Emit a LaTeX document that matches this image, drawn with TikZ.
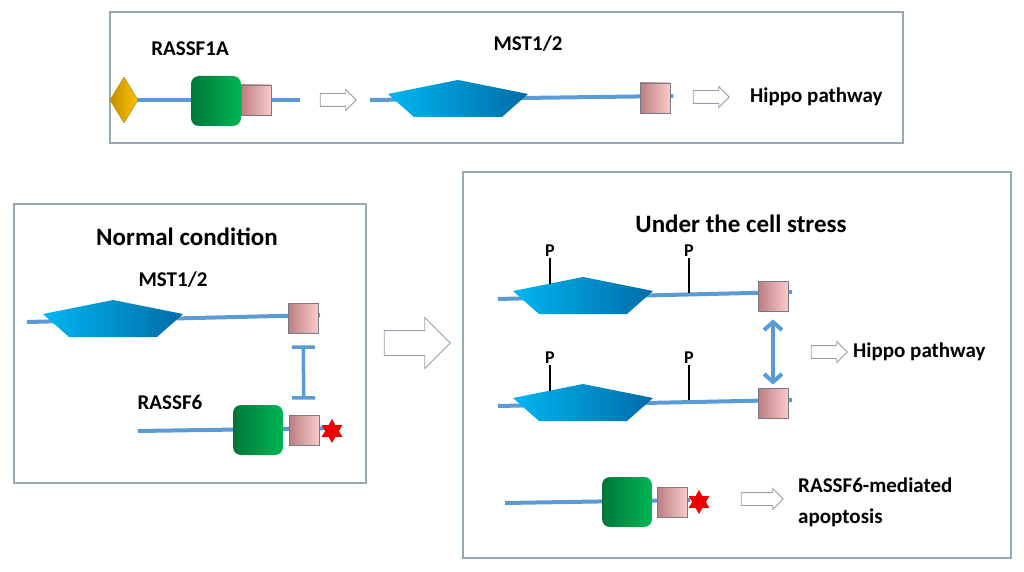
\documentclass[tikz,border=0pt]{standalone}
\usepackage{fontspec}
\setmainfont{Carlito}
\usetikzlibrary{shapes.geometric,shapes.arrows,arrows.meta,backgrounds}

\definecolor{chainblue}{RGB}{91,155,213}
\definecolor{framegray}{RGB}{150,168,178}
\definecolor{arrowgray}{RGB}{150,160,170}
\definecolor{kincyan}{RGB}{0,182,240}
\definecolor{kinblue}{RGB}{0,108,168}
\definecolor{rasdark}{RGB}{0,118,58}
\definecolor{raslight}{RGB}{0,182,82}
\definecolor{sardark}{RGB}{186,126,128}
\definecolor{sarlight}{RGB}{250,202,202}
\definecolor{sarline}{RGB}{120,120,132}
\definecolor{golddark}{RGB}{196,142,0}
\definecolor{goldlight}{RGB}{255,194,0}
\definecolor{starred}{RGB}{240,0,0}

\tikzset{
  kinase/.pic={
    \path[left color=kincyan,right color=kinblue]
      (-70,-6) -- (0,-20) -- (70,-6) -- (44,17) -- (-44,17) -- cycle;
  }
}

\begin{document}
\begin{tikzpicture}[x=1pt,y=-1pt,
  frame/.style={draw=framegray,line width=1.2pt},
  chain/.style={chainblue,line width=4pt},
  lbl/.style={font=\fontsize{21}{24}\selectfont\bfseries,inner sep=0pt},
  ttl/.style={font=\fontsize{25}{28}\selectfont\bfseries,inner sep=0pt},
  plbl/.style={font=\fontsize{18}{20}\selectfont\bfseries,inner sep=1pt},
  stick/.style={black,line width=2pt},
  rasbox/.style={rounded corners=8pt,minimum size=50pt,inner sep=0pt,
    left color=rasdark,right color=raslight},
  sarah/.style={draw=sarline,line width=0.8pt,minimum size=30pt,inner sep=0pt,
    left color=sardark,right color=sarlight},
  gem/.style={diamond,draw=golddark,line width=0.6pt,minimum width=28pt,
    minimum height=46pt,inner sep=0pt,left color=golddark,right color=goldlight},
  spark/.style={star,star points=6,star point ratio=1.75,fill=starred,
    minimum size=24pt,inner sep=0pt},
  hollow/.style={single arrow,draw=arrowgray,fill=white,line width=0.8pt,
    single arrow head extend=4pt,minimum height=36pt,inner xsep=0pt,inner ysep=6pt},
  block/.style={chainblue,line width=3.5pt,{Bar[width=23pt]}-{Bar[width=23pt]}},
  swap/.style={chainblue,line width=4pt,{Straight Barb[length=8pt,width=18pt]}-{Straight Barb[length=8pt,width=18pt]}}
]
\useasboundingbox (0,0) rectangle (1024,572);

% frames
\draw[frame] (110,12) rectangle (903,143);
\draw[frame] (14,204) rectangle (366,483);
\draw[frame] (463,172) rectangle (1011,558);

% top: RASSF1A -> MST1/2 -> Hippo
\node[lbl] (r1a) at (190,49) {RASSF1A};
\node[lbl] (mstA) at (528,44) {MST1/2};
\node[gem] (gemA) at (124,100) {};
\node[rasbox] (rasA) at (216,101) {};
\node[sarah] (sarA) at (256,100) {};
\coordinate (endA) at (300,100);
\node[hollow] (goA) at (335,100) {};
\coordinate (startB) at (370,100);
\pic at (458,100) {kinase};
\node[sarah] (sarB) at (655,98) {};
\coordinate (endB) at (673,96);
\node[hollow] (goB) at (708,97) {};
\node[lbl,anchor=west] (hipA) at (750,97) {Hippo pathway};

% normal condition
\node[ttl] (normal) at (187,237) {Normal condition};
\node[lbl] (mstC) at (173,280) {MST1/2};
\coordinate (startC) at (27,322);
\pic at (113,320) {kinase};
\node[sarah] (sarC) at (303,318) {};
\coordinate (endC) at (320,315);
\node[lbl] (r6C) at (170,402) {RASSF6};
\coordinate (startD) at (138,431);
\node[rasbox] (rasD) at (258,430) {};
\node[sarah] (sarD) at (304,430) {};
\node[spark] (starD) at (332,431) {};
\coordinate (endD) at (340,428);
\draw[block,shorten <=12pt,shorten >=15pt] (sarC) -- (sarD);

\node[single arrow,draw=arrowgray,fill=white,line width=0.8pt,
  single arrow head extend=13pt,minimum height=66pt,
  inner xsep=0pt,inner ysep=12pt] (goC) at (411,343) {};

% under the cell stress
\node[ttl] (stress) at (741,224) {Under the cell stress};
\coordinate (startE) at (498,299);
\pic at (583,297) {kinase};
\node[sarah] (sarE) at (773,296) {};
\coordinate (endE) at (792,292);
\coordinate (startF) at (498,406);
\pic at (583,404) {kinase};
\node[sarah] (sarF) at (773,403) {};
\coordinate (endF) at (792,400);
\foreach \row/\py/\ya/\yb in {E/251/284/293, F/358/391/400} {
  \node[plbl] (p1\row) at (550,\py) {P};
  \node[plbl] (p2\row) at (689,\py) {P};
  \coordinate (b1\row) at (550,\ya);
  \coordinate (b2\row) at (689,\yb);
  \draw[stick] (b1\row) -- (p1\row.south);
  \draw[stick] (b2\row) -- (p2\row.south);
}
\draw[swap,shorten <=8pt,shorten >=3pt] (sarE) -- (sarF);
\node[hollow] (goE) at (826,352) {};
\node[lbl,anchor=west] (hipE) at (853,352) {Hippo pathway};

\coordinate (startG) at (505,503);
\node[rasbox] (rasG) at (627,502) {};
\node[sarah] (sarG) at (672,502) {};
\node[spark] (starG) at (699,502) {};
\coordinate (endG) at (690,500);
\node[hollow,minimum height=42pt] (goG) at (759,499) {};
\node[lbl,anchor=west,align=left,font=\fontsize{21}{31}\selectfont\bfseries]
  (apo) at (798,502) {RASSF6-mediated\\apoptosis};

% backbones
\begin{scope}[on background layer]
  \draw[chain] (gemA.center) -- (endA);
  \draw[chain] (startB) -- (endB);
  \draw[chain] (startC) -- (endC);
  \draw[chain] (startD) -- (endD);
  \draw[chain] (startE) -- (endE);
  \draw[chain] (startF) -- (endF);
  \draw[chain] (startG) -- (endG);
\end{scope}
\end{tikzpicture}
\end{document}
